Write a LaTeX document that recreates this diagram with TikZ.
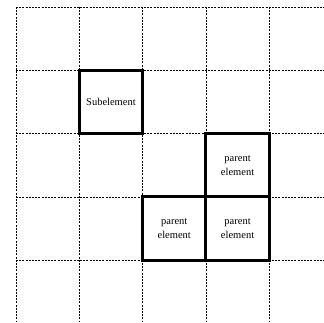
\documentclass[tikz,border=0pt]{standalone}
\usepackage{fontspec}
\setmainfont{Liberation Serif}
\begin{document}
\begin{tikzpicture}[x=1pt,y=-1pt,
  gridline/.style={line width=0.8pt,dash pattern=on 2pt off 1.2pt,black},
  cellbox/.style={draw,line width=3pt,minimum width=63.3pt,minimum height=63.3pt,inner sep=0pt,align=center,
    font=\fontsize{10.5pt}{14pt}\selectfont}]
\useasboundingbox (0,0) rectangle (324,322);
\foreach \i in {0,...,4} {
  \draw[gridline] ({16+63.3*\i},7) -- ({16+63.3*\i},322);
  \draw[gridline] (16,{7+63.3*\i}) -- (324,{7+63.3*\i});
}
\node[cellbox] (sub) at ({16+63.3*1.5},{7+63.3*1.5}) {Subelement};
\node[cellbox] (p1) at ({16+63.3*3.5},{7+63.3*2.5}) {parent\\element};
\node[cellbox] (p2) at ({16+63.3*2.5},{7+63.3*3.5}) {parent\\element};
\node[cellbox] (p3) at ({16+63.3*3.5},{7+63.3*3.5}) {parent\\element};
\end{tikzpicture}
\end{document}
